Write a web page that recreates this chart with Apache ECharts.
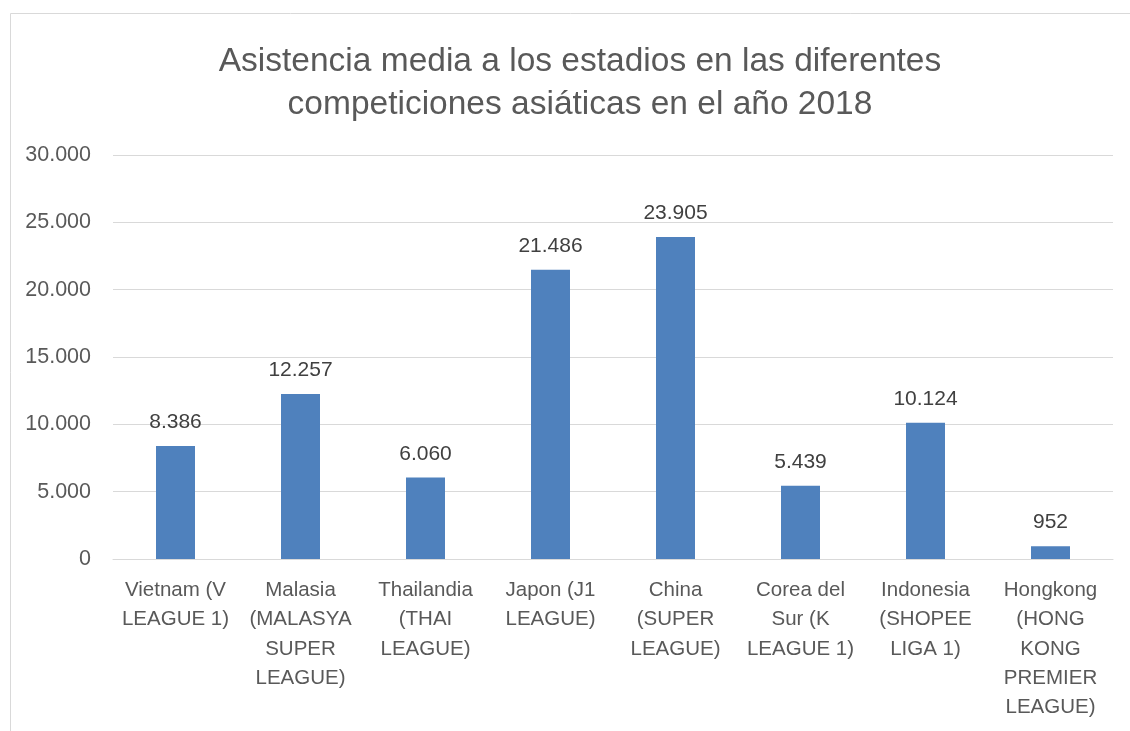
<!DOCTYPE html>
<html>
<head>
<meta charset="utf-8">
<script src="https://cdn.jsdelivr.net/npm/echarts@6/dist/echarts.min.js"></script>
<style>html,body{margin:0;padding:0;background:#fff}#c{width:1130px;height:731px}</style>
</head>
<body>
<div id="c"></div>
<script>
const titleText = 'Asistencia media a los estadios en las diferentes\ncompeticiones asiáticas en el año 2018';
const categories = [
  'Vietnam (V\nLEAGUE 1)',
  'Malasia\n(MALASYA\nSUPER\nLEAGUE)',
  'Thailandia\n(THAI\nLEAGUE)',
  'Japon (J1\nLEAGUE)',
  'China\n(SUPER\nLEAGUE)',
  'Corea del\nSur (K\nLEAGUE 1)',
  'Indonesia\n(SHOPEE\nLIGA 1)',
  'Hongkong\n(HONG\nKONG\nPREMIER\nLEAGUE)'
];
const attendance = [8386, 12257, 6060, 21486, 23905, 5439, 10124, 952];
const yTicks = [0, 5000, 10000, 15000, 20000, 25000, 30000];

function fmt(v){ return String(v).replace(/\B(?=(\d{3})+(?!\d))/g, '.'); }

const FONT = 'Liberation Sans';
const chart = echarts.init(document.getElementById('c'));
chart.setOption({
  animation: false,
  graphic: [{
    type: 'rect', left: 8, top: 11,
    shape: { x: 0, y: 0, width: 1200, height: 800 },
    style: { fill: 'none', stroke: '#d9d9d9', lineWidth: 1 },
    z: -1
  }],
  title: {
    text: titleText, left: 575, top: 35, textAlign: 'center',
    textStyle: { fontFamily: FONT, fontSize: 33.5, fontWeight: 'normal', color: '#595959', lineHeight: 43 }
  },
  grid: { left: 113, right: 17, top: 155, bottom: 172, containLabel: false },
  xAxis: {
    type: 'category', data: categories,
    axisLine: { lineStyle: { color: '#d9d9d9', width: 1 } },
    axisTick: { show: false },
    axisLabel: { interval: 0, fontFamily: FONT, fontSize: 20.5, color: '#595959', lineHeight: 29.2, margin: 17 }
  },
  yAxis: {
    type: 'value', min: yTicks[0], max: yTicks[yTicks.length-1], interval: 5000,
    axisLine: { show: false }, axisTick: { show: false },
    splitLine: { lineStyle: { color: '#d9d9d9', width: 1 } },
    axisLabel: { fontFamily: FONT, fontSize: 21.5, color: '#595959', margin: 22, formatter: v => fmt(v) }
  },
  series: [{
    type: 'bar', data: attendance, barWidth: 39,
    itemStyle: { color: '#4f81bd' },
    label: { show: true, position: 'top', distance: 13, fontFamily: FONT, fontSize: 21, color: '#404040', formatter: p => fmt(p.value) }
  }]
});
</script>
</body>
</html>
